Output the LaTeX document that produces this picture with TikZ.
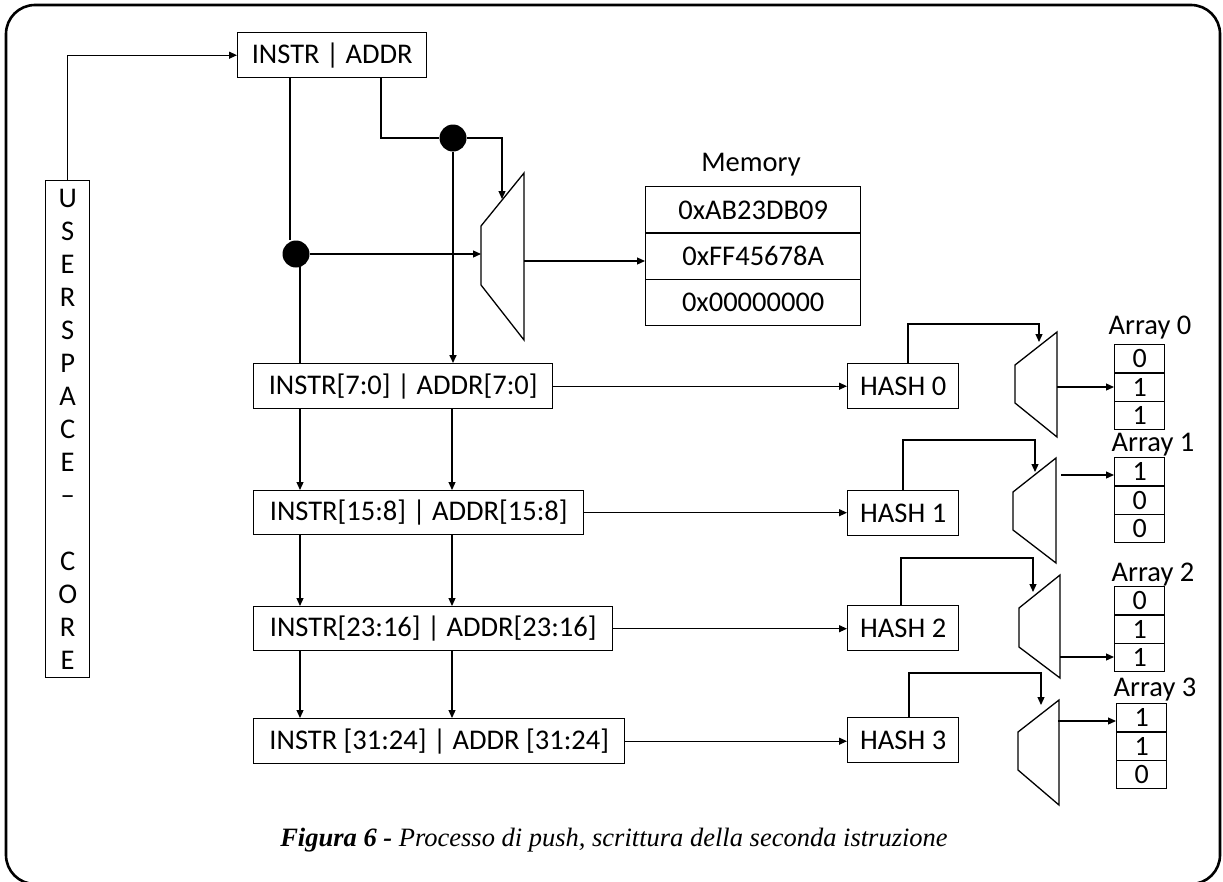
\documentclass[tikz,border=0pt]{standalone}
\usepackage{fontspec}
\setmainfont{Carlito}
\newfontfamily\capfont{Liberation Serif}
\usetikzlibrary{arrows.meta}

\begin{document}
\begin{tikzpicture}[x=1pt, y=-1pt, line width=1.2pt,
  box/.style={draw, line width=1.4pt, inner sep=0pt, anchor=north west,
    font=\fontsize{28.5}{33}\selectfont},
  cell/.style={draw, line width=1.4pt, inner sep=0pt, anchor=north west,
    minimum width=50pt, minimum height=28.3pt, font=\fontsize{28}{28}\selectfont},
  lbl/.style={inner sep=0pt, font=\fontsize{28.5}{33}\selectfont},
  arr/.style={-{Triangle[length=8pt,width=7pt]}},
  dot/.style={circle, fill=black, minimum size=27pt, inner sep=0pt},
  mux/.style={draw, line width=1.3pt, line join=miter}
]
\useasboundingbox (0,0) rectangle (1223,881);
% outer frame
\draw[line width=2.6pt, rounded corners=29pt] (6,5) rectangle (1220,884);

% user space column
\node[box, minimum width=44pt, minimum height=497pt, align=center] (usr) at (45,180)
  {U\\S\\E\\R\\S\\P\\A\\C\\E\\--\\\mbox{}\\C\\O\\R\\E};

% register boxes
\node[box, minimum width=189pt, minimum height=45pt] (top) at (237,32) {INSTR | ADDR};
\node[box, minimum width=299pt, minimum height=45pt] (r0) at (253,363) {INSTR[7:0] | ADDR[7:0]};
\node[box, minimum width=330pt, minimum height=44pt] (r1) at (253,490) {INSTR[15:8] | ADDR[15:8]};
\node[box, minimum width=359pt, minimum height=44pt] (r2) at (253,606) {INSTR[23:16] | ADDR[23:16]};
\node[box, minimum width=371pt, minimum height=45pt] (r3) at (253,718) {INSTR [31:24] | ADDR [31:24]};

% hash units
\node[box, minimum width=111pt, minimum height=45pt] (h0) at (847,363) {HASH 0};
\node[box, minimum width=111pt, minimum height=45pt] (h1) at (847,490) {HASH 1};
\node[box, minimum width=111pt, minimum height=45pt] (h2) at (847,605) {HASH 2};
\node[box, minimum width=111pt, minimum height=45pt] (h3) at (847,717) {HASH 3};

% memory
\node[lbl] (memlbl) at (751,165) {Memory};
\node[box, minimum width=215pt, minimum height=46.3pt] (mem1) at (645,186) {0xAB23DB09};
\node[box, minimum width=215pt, minimum height=46.3pt] (mem2) at (645,232.3) {0xFF45678A};
\node[box, minimum width=215pt, minimum height=46.3pt] (mem3) at (645,278.6) {0x00000000};

% bit arrays
\node[lbl] (l0) at (1150,328) {Array 0};
\node[cell] (a01) at (1114,344) {0};
\node[cell] (a02) at (1114,372.3) {1};
\node[cell] (a03) at (1114,400.6) {1};
\node[lbl] (l1) at (1153,445) {Array 1};
\node[cell] (a11) at (1114,457) {1};
\node[cell] (a12) at (1114,485.3) {0};
\node[cell] (a13) at (1114,513.6) {0};
\node[lbl] (l2) at (1153,575) {Array 2};
\node[cell] (a21) at (1114,586) {0};
\node[cell] (a22) at (1114,614.3) {1};
\node[cell] (a23) at (1114,642.6) {1};
\node[lbl] (l3) at (1155,690) {Array 3};
\node[cell] (a31) at (1116,703) {1};
\node[cell] (a32) at (1116,731.3) {1};
\node[cell] (a33) at (1116,759.6) {0};

% multiplexers
\draw[mux] (481,226) -- (524,173) -- (524,340) -- (481,285) -- cycle;
\draw[mux] (1015,365) -- (1057,332) -- (1057,437) -- (1015,403) -- cycle;
\draw[mux] (1013,492) -- (1056,458) -- (1056,563) -- (1013,530) -- cycle;
\draw[mux] (1019,608) -- (1060,575) -- (1060,678) -- (1019,647) -- cycle;
\draw[mux] (1018,732) -- (1059,700) -- (1059,805) -- (1018,770) -- cycle;
\coordinate (m0sel) at (502,199);
\coordinate (m0in) at (481,257);
\coordinate (m0out) at (524,261);
\coordinate (s0) at (1039,342);
\coordinate (s1) at (1035,472);
\coordinate (s2) at (1033,592);
\coordinate (s3) at (1041,705);
\coordinate (o0) at (1057,387);
\coordinate (o1) at (1061,475);
\coordinate (o2) at (1060,657);
\coordinate (o3) at (1058,721);

% junction dots
\node[dot] (d1) at (296,254) {};
\node[dot] (d2) at (453,138) {};

% connectors
\draw[arr] (usr.north) |- (top.west);
\draw ([xshift=53pt]top.south west) -- (d1.north -| 290,0);
\draw ([xshift=144pt]top.south west) |- (d2);
\draw[arr] (d2) -| (m0sel);
\draw[arr] (d1) -- (d1 -| m0in);
\draw ([xshift=47pt]r0.north west |- d1) -- ([xshift=47pt]r0.north west);
\draw[arr, line width=1.6pt] (d2) -- (d2 |- r0.north);
\draw[arr] (m0out) -- (m0out -| mem2.west);

\foreach \a/\b in {r0/r1, r1/r2, r2/r3}{
  \draw[arr] ([xshift=47pt]\a.south west) -- ([xshift=47pt]\b.north west);
  \draw[arr] ([xshift=199pt]\a.south west) -- ([xshift=199pt]\b.north west);
}
\foreach \i in {0,1,2,3}{
  \draw[arr] (r\i.east) -- (r\i.east -| h\i.west);
}
\draw[arr] ([xshift=61pt]h0.north west) |- (1039,324) -- (s0);
\draw[arr] ([xshift=56pt]h1.north west) |- (1035,440) -- (s1);
\draw[arr] ([xshift=54pt]h2.north west) |- (1033,558) -- (s2);
\draw[arr] ([xshift=62pt]h3.north west) |- (1041,673) -- (s3);
\draw[arr] (o0) -- (o0 -| a02.west);
\draw[arr] (o1) -- (o1 -| a11.west);
\draw[arr] (o2) -- (o2 -| a23.west);
\draw[arr] (o3) -- (o3 -| a31.west);

% caption
\node (cap) at (614,840) {\capfont\fontsize{26.5}{30}\selectfont\textbf{\textit{Figura 6 -}} \textit{Processo di push, scrittura della seconda istruzione}};
\end{tikzpicture}
\end{document}
